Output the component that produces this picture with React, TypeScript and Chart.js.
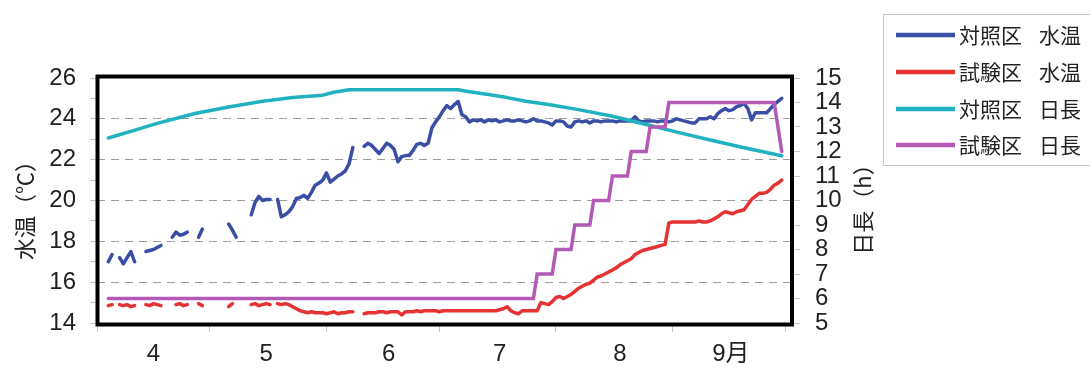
import React, { useEffect, useRef } from 'react';
import { Chart, registerables } from 'chart.js';

Chart.register(...registerables);

// ---- axis / tick data ----
const MONTH_LABELS = ['4', '5', '6', '7', '8', '9月'];
const MONTH_LABEL_DAYS = [15, 45, 77.5, 107, 139, 168.5];
const MONTH_BOUNDARY_DAYS = [0, 30, 61, 91, 122, 153, 183];

const SERIES_NAMES = ['対照区 水温', '試験区 水温', '対照区 日長', '試験区 日長'];
const SERIES_COLORS = ['#3b4ea6', '#e53232', '#20b2bf', '#b25ab6'];

const Y_TITLE_LEFT = '水温（℃）';
const Y_TITLE_RIGHT = '日長（h）';

// ---- water temperature, daily from day 3 (Apr 4) to day 182 (Sep 30) ----
const TEMP_FIRST_DAY = 3;
const controlTemp = [
  17.0, 17.35, null, 17.2, 16.9, 17.2, 17.5, 17.0, null, null,
  17.5, 17.55, 17.6, 17.7, 17.8, null, null, 18.2, 18.45, 18.3,
  18.35, 18.45, null, null, 18.2, 18.6, null, null, null, null,
  null, null, 18.85, 18.55, 18.2, null, null, null, 19.3, 19.9,
  20.2, 20.0, 20.05, 20.05, null, 20.05, 19.2, 19.3, 19.45, 19.7,
  20.1, 20.15, 20.25, 20.1, 20.4, 20.75, 20.85, 21.0, 21.35, 20.9,
  21.05, 21.2, 21.3, 21.45, 21.8, 22.6, null, null, 22.65, 22.8,
  22.7, 22.5, 22.3, 22.55, 22.8, 22.7, 22.5, 21.9, 22.15, 22.2,
  22.2, 22.45, 22.75, 22.8, 22.7, 22.8, 23.55, 23.85, 24.1, 24.4,
  24.65, 24.5, 24.7, 24.85, 24.2, 24.1, 23.85, 23.95, 23.9, 23.95,
  23.85, 23.95, 23.9, 23.95, 23.85, 23.9, 23.95, 23.9, 23.9, 23.95,
  23.9, 23.85, 23.9, 24.0, 23.9, 23.9, 23.85, 23.8, 23.7, 23.9,
  23.9, 23.85, 23.65, 23.6, 23.85, 23.9, 23.85, 23.9, 23.8, 23.9,
  23.9, 23.85, 23.9, 23.9, 23.9, 23.85, 23.9, 23.9, 23.9, 23.9,
  24.1, 23.9, 23.85, 23.9, 23.9, 23.9, 23.85, 23.9, 23.9, 23.85,
  23.9, 24.0, 23.95, 23.9, 23.85, 23.8, 23.8, 24.0, 24.0, 24.0,
  24.1, 24.0, 24.25, 24.4, 24.5, 24.4, 24.45, 24.6, 24.65, 24.75,
  24.5, 23.95, 24.3, 24.3, 24.3, 24.3, 24.5, 24.7, 24.85, 25.0,
];
const trialTemp = [
  14.85, 14.9, null, 14.9, 14.85, 14.9, 14.8, 14.85, null, null,
  14.9, 14.85, 14.95, 14.9, 14.85, null, null, null, 14.9, 14.95,
  14.85, 14.9, null, null, 14.95, 14.85, null, null, null, null,
  null, null, 14.8, 14.95, null, null, null, null, 14.9, 14.95,
  14.85, 14.9, 14.95, 14.9, null, 14.95, 14.9, 14.95, 14.9, 14.8,
  14.7, 14.6, 14.55, 14.5, 14.55, 14.5, 14.5, 14.5, 14.45, 14.5,
  14.55, 14.45, 14.5, 14.5, 14.55, 14.55, null, null, 14.45, 14.5,
  14.5, 14.5, 14.55, 14.55, 14.5, 14.55, 14.55, 14.55, 14.4, 14.55,
  14.55, 14.55, 14.6, 14.55, 14.6, 14.6, 14.6, 14.6, 14.55, 14.6,
  14.6, 14.6, 14.6, 14.6, 14.6, 14.6, 14.6, 14.6, 14.6, 14.6,
  14.6, 14.6, 14.6, 14.6, 14.65, 14.7, 14.8, 14.6, 14.5, 14.45,
  14.6, 14.6, 14.6, 14.6, 14.6, 15.0, 14.95, 14.9, 15.05, 15.25,
  15.3, 15.2, 15.3, 15.4, 15.55, 15.7, 15.8, 15.9, 15.95, 16.1,
  16.25, 16.3, 16.4, 16.5, 16.6, 16.7, 16.85, 16.95, 17.05, 17.15,
  17.35, 17.45, 17.55, 17.6, 17.65, 17.7, 17.75, 17.8, 17.85, 18.9,
  18.95, 18.95, 18.95, 18.95, 18.95, 18.95, 18.95, 19.0, 18.95, 18.95,
  19.0, 19.1, 19.2, 19.35, 19.45, 19.4, 19.35, 19.45, 19.5, 19.55,
  19.8, 20.05, 20.2, 20.35, 20.35, 20.4, 20.55, 20.75, 20.85, 21.0,
];

// ---- day length (hours) ----
const controlDayLenDays = [3, 9, 16, 26, 35, 44, 52, 60, 63, 67, 96, 99, 104, 109, 114, 120, 128, 137, 146, 155, 163, 172, 182];
const controlDayLenHours = [12.55, 12.82, 13.15, 13.55, 13.82, 14.05, 14.2, 14.3, 14.42, 14.52, 14.52, 14.44, 14.33, 14.2, 14.05, 13.92, 13.71, 13.44, 13.1, 12.76, 12.47, 12.15, 11.83];

const trialDayLenDays = [3, 116, 117, 121, 122, 126, 127, 131, 132, 136, 137, 141, 142, 146, 147, 151, 152, 180, 182];
const trialDayLenHours = [6, 6, 7, 7, 8, 8, 9, 9, 10, 10, 11, 11, 12, 12, 13, 13, 14, 14, 12];

const NUM_FONT = "'Liberation Sans', Arial, 'Noto Sans CJK JP', sans-serif";
const CJK_FONT = "'Noto Sans CJK JP', 'Noto Sans CJK SC', sans-serif";
const TEXT_COLOR = '#222222';
const TICK_COLOR = '#c4c4c4';

const isBoundary = (v: number) => MONTH_BOUNDARY_DAYS.indexOf(v) >= 0;

const decorPlugin = {
  id: 'decor',
  afterDatasetsDraw(chart: any) {
    const { ctx, chartArea: a } = chart;
    ctx.save();
    ctx.strokeStyle = '#000';
    ctx.lineWidth = 4;
    ctx.strokeRect(a.left + 0.5, a.top - 1.5, a.right - a.left - 1.5, a.bottom - a.top + 3);
    ctx.restore();
  },
  afterDraw(chart: any) {
    const { ctx } = chart;
    ctx.save();
    ctx.fillStyle = TEXT_COLOR;
    ctx.font = `22px ${CJK_FONT}`;
    ctx.textAlign = 'center';
    ctx.textBaseline = 'middle';
    // left title
    ctx.save();
    ctx.translate(25, 205);
    ctx.rotate(-Math.PI / 2);
    ctx.fillText(Y_TITLE_LEFT, 0, 0);
    ctx.restore();
    // right title
    ctx.save();
    ctx.translate(863, 204);
    ctx.rotate(-Math.PI / 2);
    ctx.fillText(Y_TITLE_RIGHT, 0, 0);
    ctx.restore();

    // legend
    ctx.strokeStyle = '#c8c8c8';
    ctx.lineWidth = 1;
    ctx.strokeRect(883.5, 14.5, 230, 151);
    const rows = [35, 72, 109, 145];
    ctx.font = `21px ${CJK_FONT}`;
    ctx.textAlign = 'left';
    SERIES_NAMES.forEach((name, i) => {
      const y = rows[i];
      ctx.strokeStyle = SERIES_COLORS[i];
      ctx.lineWidth = 4.5;
      ctx.lineCap = 'butt';
      ctx.beginPath();
      ctx.moveTo(896, y);
      ctx.lineTo(955, y);
      ctx.stroke();
      const parts = name.split(' ');
      ctx.fillStyle = TEXT_COLOR;
      ctx.fillText(parts[0], 959, y);
      ctx.fillText(parts[1], 1039, y);
    });
    ctx.restore();
  },
};

export default function App() {
  const canvasRef = useRef<HTMLCanvasElement | null>(null);

  useEffect(() => {
    if (!canvasRef.current) return;
    const lineBase = {
      pointRadius: 0,
      borderWidth: 3.5,
      tension: 0,
      spanGaps: false,
      fill: false,
      borderCapStyle: 'round' as const,
      borderJoinStyle: 'round' as const,
    };
    const chart = new Chart(canvasRef.current, {
      type: 'line',
      data: {
        datasets: [
          {
            ...lineBase,
            label: SERIES_NAMES[0],
            data: controlTemp.map((v, i) => ({ x: TEMP_FIRST_DAY + i, y: v })),
            borderColor: SERIES_COLORS[0],
            yAxisID: 'yT',
            order: 3,
          },
          {
            ...lineBase,
            label: SERIES_NAMES[1],
            data: trialTemp.map((v, i) => ({ x: TEMP_FIRST_DAY + i, y: v })),
            borderColor: SERIES_COLORS[1],
            yAxisID: 'yT',
            order: 2,
          },
          {
            ...lineBase,
            label: SERIES_NAMES[2],
            data: controlDayLenDays.map((d, i) => ({ x: d, y: controlDayLenHours[i] })),
            borderColor: SERIES_COLORS[2],
            yAxisID: 'yH',
            order: 1,
          },
          {
            ...lineBase,
            label: SERIES_NAMES[3],
            data: trialDayLenDays.map((d, i) => ({ x: d, y: trialDayLenHours[i] })),
            borderColor: SERIES_COLORS[3],
            borderJoinStyle: 'miter' as const,
            yAxisID: 'yH',
            order: 0,
          },
        ] as any,
      },
      options: {
        animation: false,
        responsive: false,
        maintainAspectRatio: false,
        layout: { padding: { top: 78, left: 0, right: 0, bottom: 0 } },
        plugins: {
          legend: { display: false },
          tooltip: { enabled: false },
          title: { display: false },
        },
        scales: {
          x: {
            type: 'linear',
            position: 'bottom',
            min: 0,
            max: 185,
            afterBuildTicks: (s: any) => {
              s.ticks = [...MONTH_BOUNDARY_DAYS, ...MONTH_LABEL_DAYS].map((v) => ({ value: v }));
            },
            afterFit: (s: any) => {
              s.height = 49;
            },
            grid: {
              drawOnChartArea: false,
              tickLength: 9,
              color: (ctx: any) => (ctx.tick && isBoundary(ctx.tick.value) ? TICK_COLOR : 'transparent'),
              tickColor: (ctx: any) => (ctx.tick && isBoundary(ctx.tick.value) ? TICK_COLOR : 'transparent'),
            },
            border: { display: false },
            ticks: {
              autoSkip: false,
              maxRotation: 0,
              minRotation: 0,
              padding: 8,
              color: TEXT_COLOR,
              font: { family: NUM_FONT, size: 24 },
              callback: (v: any) => {
                const idx = MONTH_LABEL_DAYS.indexOf(Number(v));
                return idx >= 0 ? MONTH_LABELS[idx] : '';
              },
            },
          },
          yT: {
            type: 'linear',
            position: 'left',
            min: 14,
            max: 26,
            afterFit: (s: any) => {
              s.width = 97;
            },
            ticks: {
              stepSize: 1,
              autoSkip: false,
              padding: 14,
              color: TEXT_COLOR,
              font: { family: NUM_FONT, size: 24 },
              callback: (v: any) => (Number(v) % 2 === 0 ? String(v) : ''),
            },
            grid: {
              tickLength: 7,
              lineWidth: 1,
              color: (ctx: any) => {
                const v = ctx.tick ? ctx.tick.value : 0;
                return v % 2 === 0 && v > 14 && v < 26 ? '#9c9c9c' : 'transparent';
              },
              tickColor: TICK_COLOR,
            },
            border: { display: false, dash: [8, 6] },
          },
          yH: {
            type: 'linear',
            position: 'right',
            min: 5,
            max: 15,
            afterFit: (s: any) => {
              s.width = 297;
            },
            ticks: {
              stepSize: 1,
              autoSkip: false,
              padding: 15,
              color: TEXT_COLOR,
              font: { family: NUM_FONT, size: 24 },
            },
            grid: {
              drawOnChartArea: false,
              tickLength: 7,
              color: TICK_COLOR,
              tickColor: TICK_COLOR,
            },
            border: { display: false },
          },
        },
      } as any,
      plugins: [decorPlugin],
    });
    return () => chart.destroy();
  }, []);

  return (
    <div style={{ position: 'absolute', left: 0, top: 0, width: 1090, height: 372, background: '#fff' }}>
      <canvas ref={canvasRef} width={1090} height={372} style={{ display: 'block', width: 1090, height: 372 }} />
    </div>
  );
}
